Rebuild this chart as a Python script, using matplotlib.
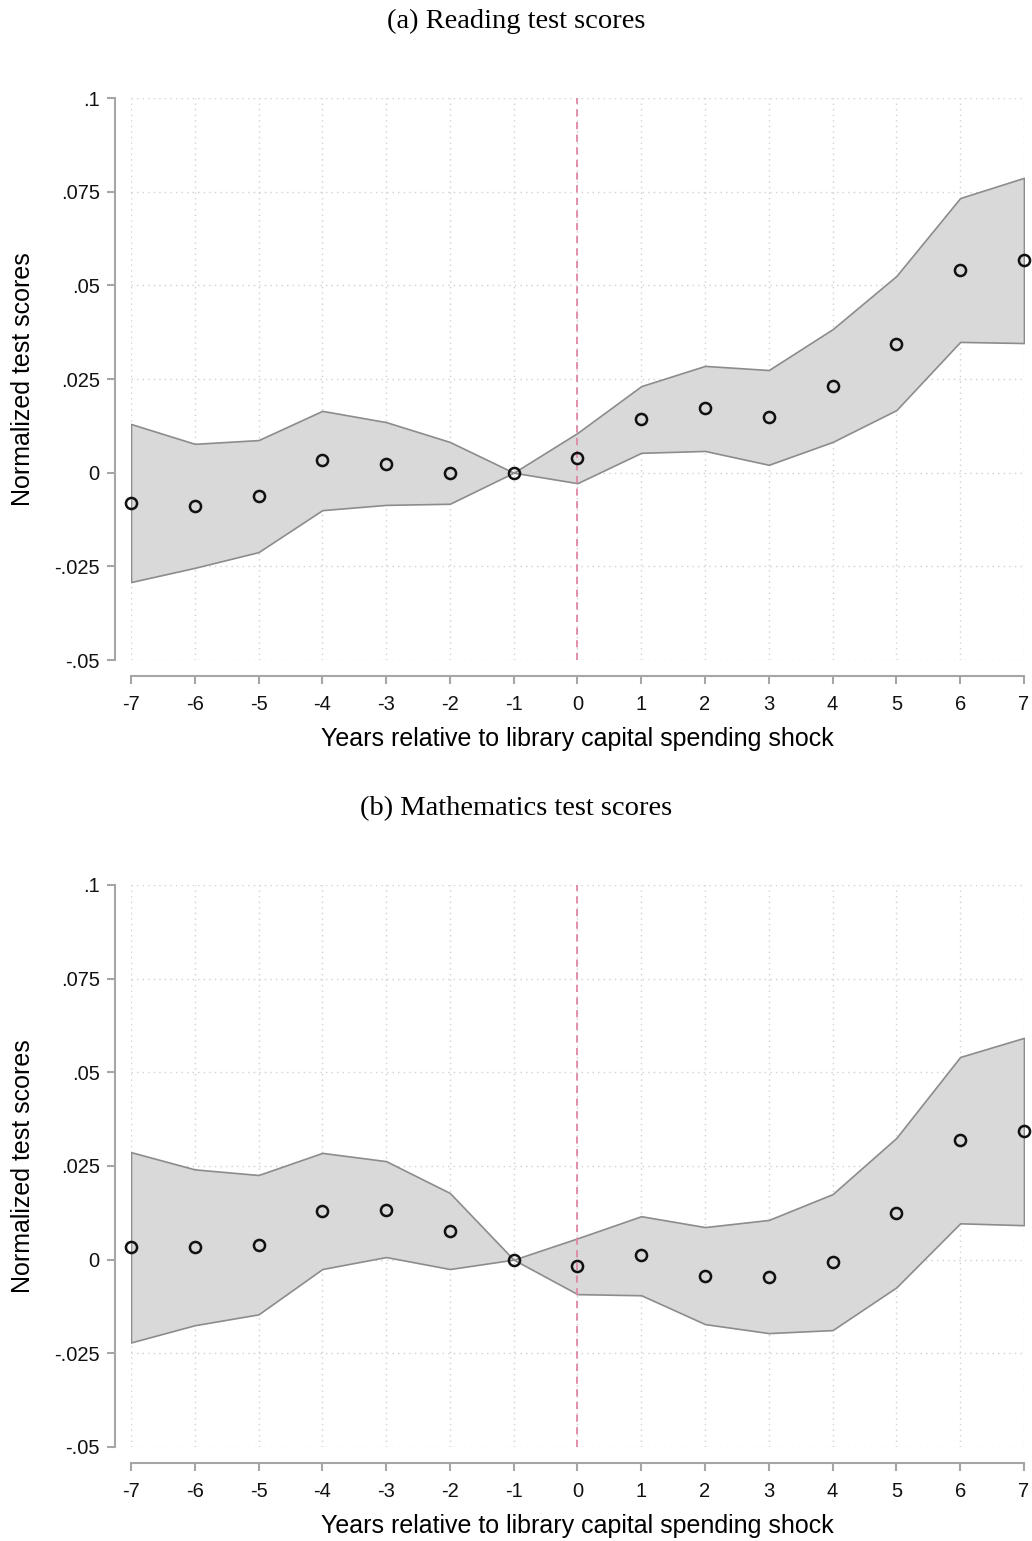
import numpy as np
from matplotlib import pyplot as plt

# event-time grid
years = list(range(-7, 8))

# (a) reading
read_coef = [-0.0081, -0.0089, -0.0062, 0.0034, 0.0023, -0.0001, 0.0, 0.0039,
             0.0143, 0.0173, 0.0149, 0.0231, 0.0343, 0.0541, 0.0568]
read_hi = [0.0130, 0.0077, 0.0087, 0.0165, 0.0135, 0.0082, 0.0, 0.0106,
           0.0231, 0.0285, 0.0274, 0.0383, 0.0525, 0.0733, 0.0787]
read_lo = [-0.0292, -0.0254, -0.0212, -0.0100, -0.0086, -0.0083, 0.0, -0.0028,
           0.0053, 0.0058, 0.0021, 0.0082, 0.0167, 0.0349, 0.0346]

# (b) mathematics
math_coef = [0.0033, 0.0033, 0.0039, 0.0130, 0.0132, 0.0076, 0.0, -0.0017,
             0.0012, -0.0044, -0.0047, -0.0007, 0.0124, 0.0320, 0.0343]
math_hi = [0.0287, 0.0241, 0.0226, 0.0285, 0.0263, 0.0178, 0.0, 0.0057,
           0.0116, 0.0087, 0.0106, 0.0175, 0.0325, 0.0541, 0.0592]
math_lo = [-0.0221, -0.0175, -0.0146, -0.0025, 0.0007, -0.0025, 0.0, -0.0092,
           -0.0095, -0.0172, -0.0196, -0.0188, -0.0074, 0.0097, 0.0092]

yticks = [-0.05, -0.025, 0, 0.025, 0.05, 0.075, 0.1]
ytick_labels = ["-.05", "-.025", "0", ".025", ".05", ".075", ".1"]

panels = [
    ("(a) Reading test scores", read_coef, read_lo, read_hi, 0.5717),
    ("(b) Mathematics test scores", math_coef, math_lo, math_hi, 0.0610),
]

fig = plt.figure(figsize=(10.32, 15.41), dpi=100)
axis_font = "Liberation Sans"
spine_col = "#a6a6a6"

for title, coef, lo, hi, bottom in panels:
    ax = fig.add_axes([0.1269, bottom, 0.8653, 0.3647])
    ax.set_xlim(-7, 7)
    ax.set_ylim(-0.05, 0.1)

    ax.fill_between(years, lo, hi, facecolor="#d9d9d9", edgecolor="#8c8c8c",
                    linewidth=1.2, zorder=2)
    ax.axvline(0, color="#e086a6", linestyle=(0, (4, 3)), linewidth=1.3, zorder=3)
    ax.plot(years, coef, "o", markersize=8, markerfacecolor="none",
            markeredgecolor="#111111", markeredgewidth=1.8, zorder=4,
            clip_on=False)

    ax.set_xticks(years)
    ax.set_xticklabels([str(y) for y in years])
    ax.set_yticks(yticks)
    ax.set_yticklabels(ytick_labels)
    ax.grid(True, color="#d0d0d0", linestyle=(0, (1, 3)), linewidth=1.0)
    ax.set_axisbelow(True)

    for s in ["top", "right"]:
        ax.spines[s].set_visible(False)
    for s in ["left", "bottom"]:
        ax.spines[s].set_position(("outward", 11.5))
        ax.spines[s].set_color(spine_col)
        ax.spines[s].set_linewidth(1.5)
    ax.tick_params(axis="both", colors=spine_col, length=6, width=1.5,
                   labelcolor="#111111", labelsize=14.5)
    ax.tick_params(axis="x", pad=8)
    ax.tick_params(axis="y", pad=5)
    for lab in ax.get_xticklabels() + ax.get_yticklabels():
        lab.set_fontfamily(axis_font)

    ax.set_xlabel("Years relative to library capital spending shock",
                  fontsize=18, family=axis_font, labelpad=9)
    ax.set_ylabel("Normalized test scores", fontsize=18, family=axis_font,
                  labelpad=14)

    top = bottom + 0.3647
    fig.text(0.5, top + 0.0495, title, ha="center", va="center",
             fontsize=20.5, family="Liberation Serif")

fig.savefig("out.png", dpi=100)
